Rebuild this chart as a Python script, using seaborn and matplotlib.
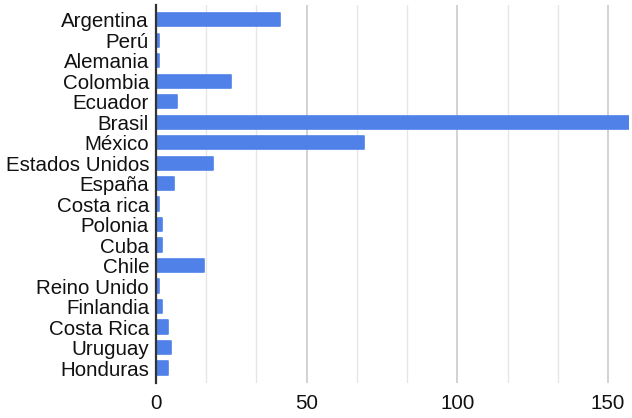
import matplotlib.pyplot as plt
import numpy as np
import pandas as pd
import seaborn as sns
from matplotlib.ticker import MultipleLocator

countries = [
    "Argentina", "Perú", "Alemania", "Colombia", "Ecuador", "Brasil", "México",
    "Estados Unidos", "España", "Costa rica", "Polonia", "Cuba", "Chile",
    "Reino Unido", "Finlandia", "Costa Rica", "Uruguay", "Honduras",
]
values = [41, 1, 1, 25, 7, 157, 69, 19, 6, 1, 2, 2, 16, 1, 2, 4, 5, 4]

bar_color = "#4f81e9"

sns.set_style("white")
plt.rcParams["font.family"] = ["Liberation Sans", "DejaVu Sans"]

df = pd.DataFrame({"country": countries, "value": values})

fig = plt.figure(figsize=(6.32, 4.18), dpi=100)
ax = fig.add_axes([0.2468, 0.0837, 0.7485, 0.9043])

sns.barplot(data=df, x="value", y="country", color=bar_color, width=0.64,
            saturation=1, ax=ax)
for p in ax.patches:
    p.set_edgecolor(bar_color)
    p.set_linewidth(1.2)
    p.set_joinstyle("round")

ax.set_xlim(0, 157)
ax.set_ylim(len(countries) - 1 + 0.73, -0.71)
ax.xaxis.set_major_locator(MultipleLocator(50))
ax.xaxis.set_minor_locator(MultipleLocator(50 / 3))
ax.grid(axis="x", which="major", color="#c6c6c6", linewidth=1.1)
ax.grid(axis="x", which="minor", color="#e6e6e6", linewidth=1.0)
ax.set_axisbelow(True)

for s in ["top", "right", "bottom"]:
    ax.spines[s].set_visible(False)
ax.spines["left"].set_color("#333333")
ax.spines["left"].set_linewidth(1.6)

ax.tick_params(axis="both", which="both", length=0, labelsize=14.8, colors="#111111")
ax.tick_params(axis="x", pad=8)
ax.tick_params(axis="y", pad=5)
ax.set_xlabel("")
ax.set_ylabel("")

fig.savefig("out.png", dpi=100)
